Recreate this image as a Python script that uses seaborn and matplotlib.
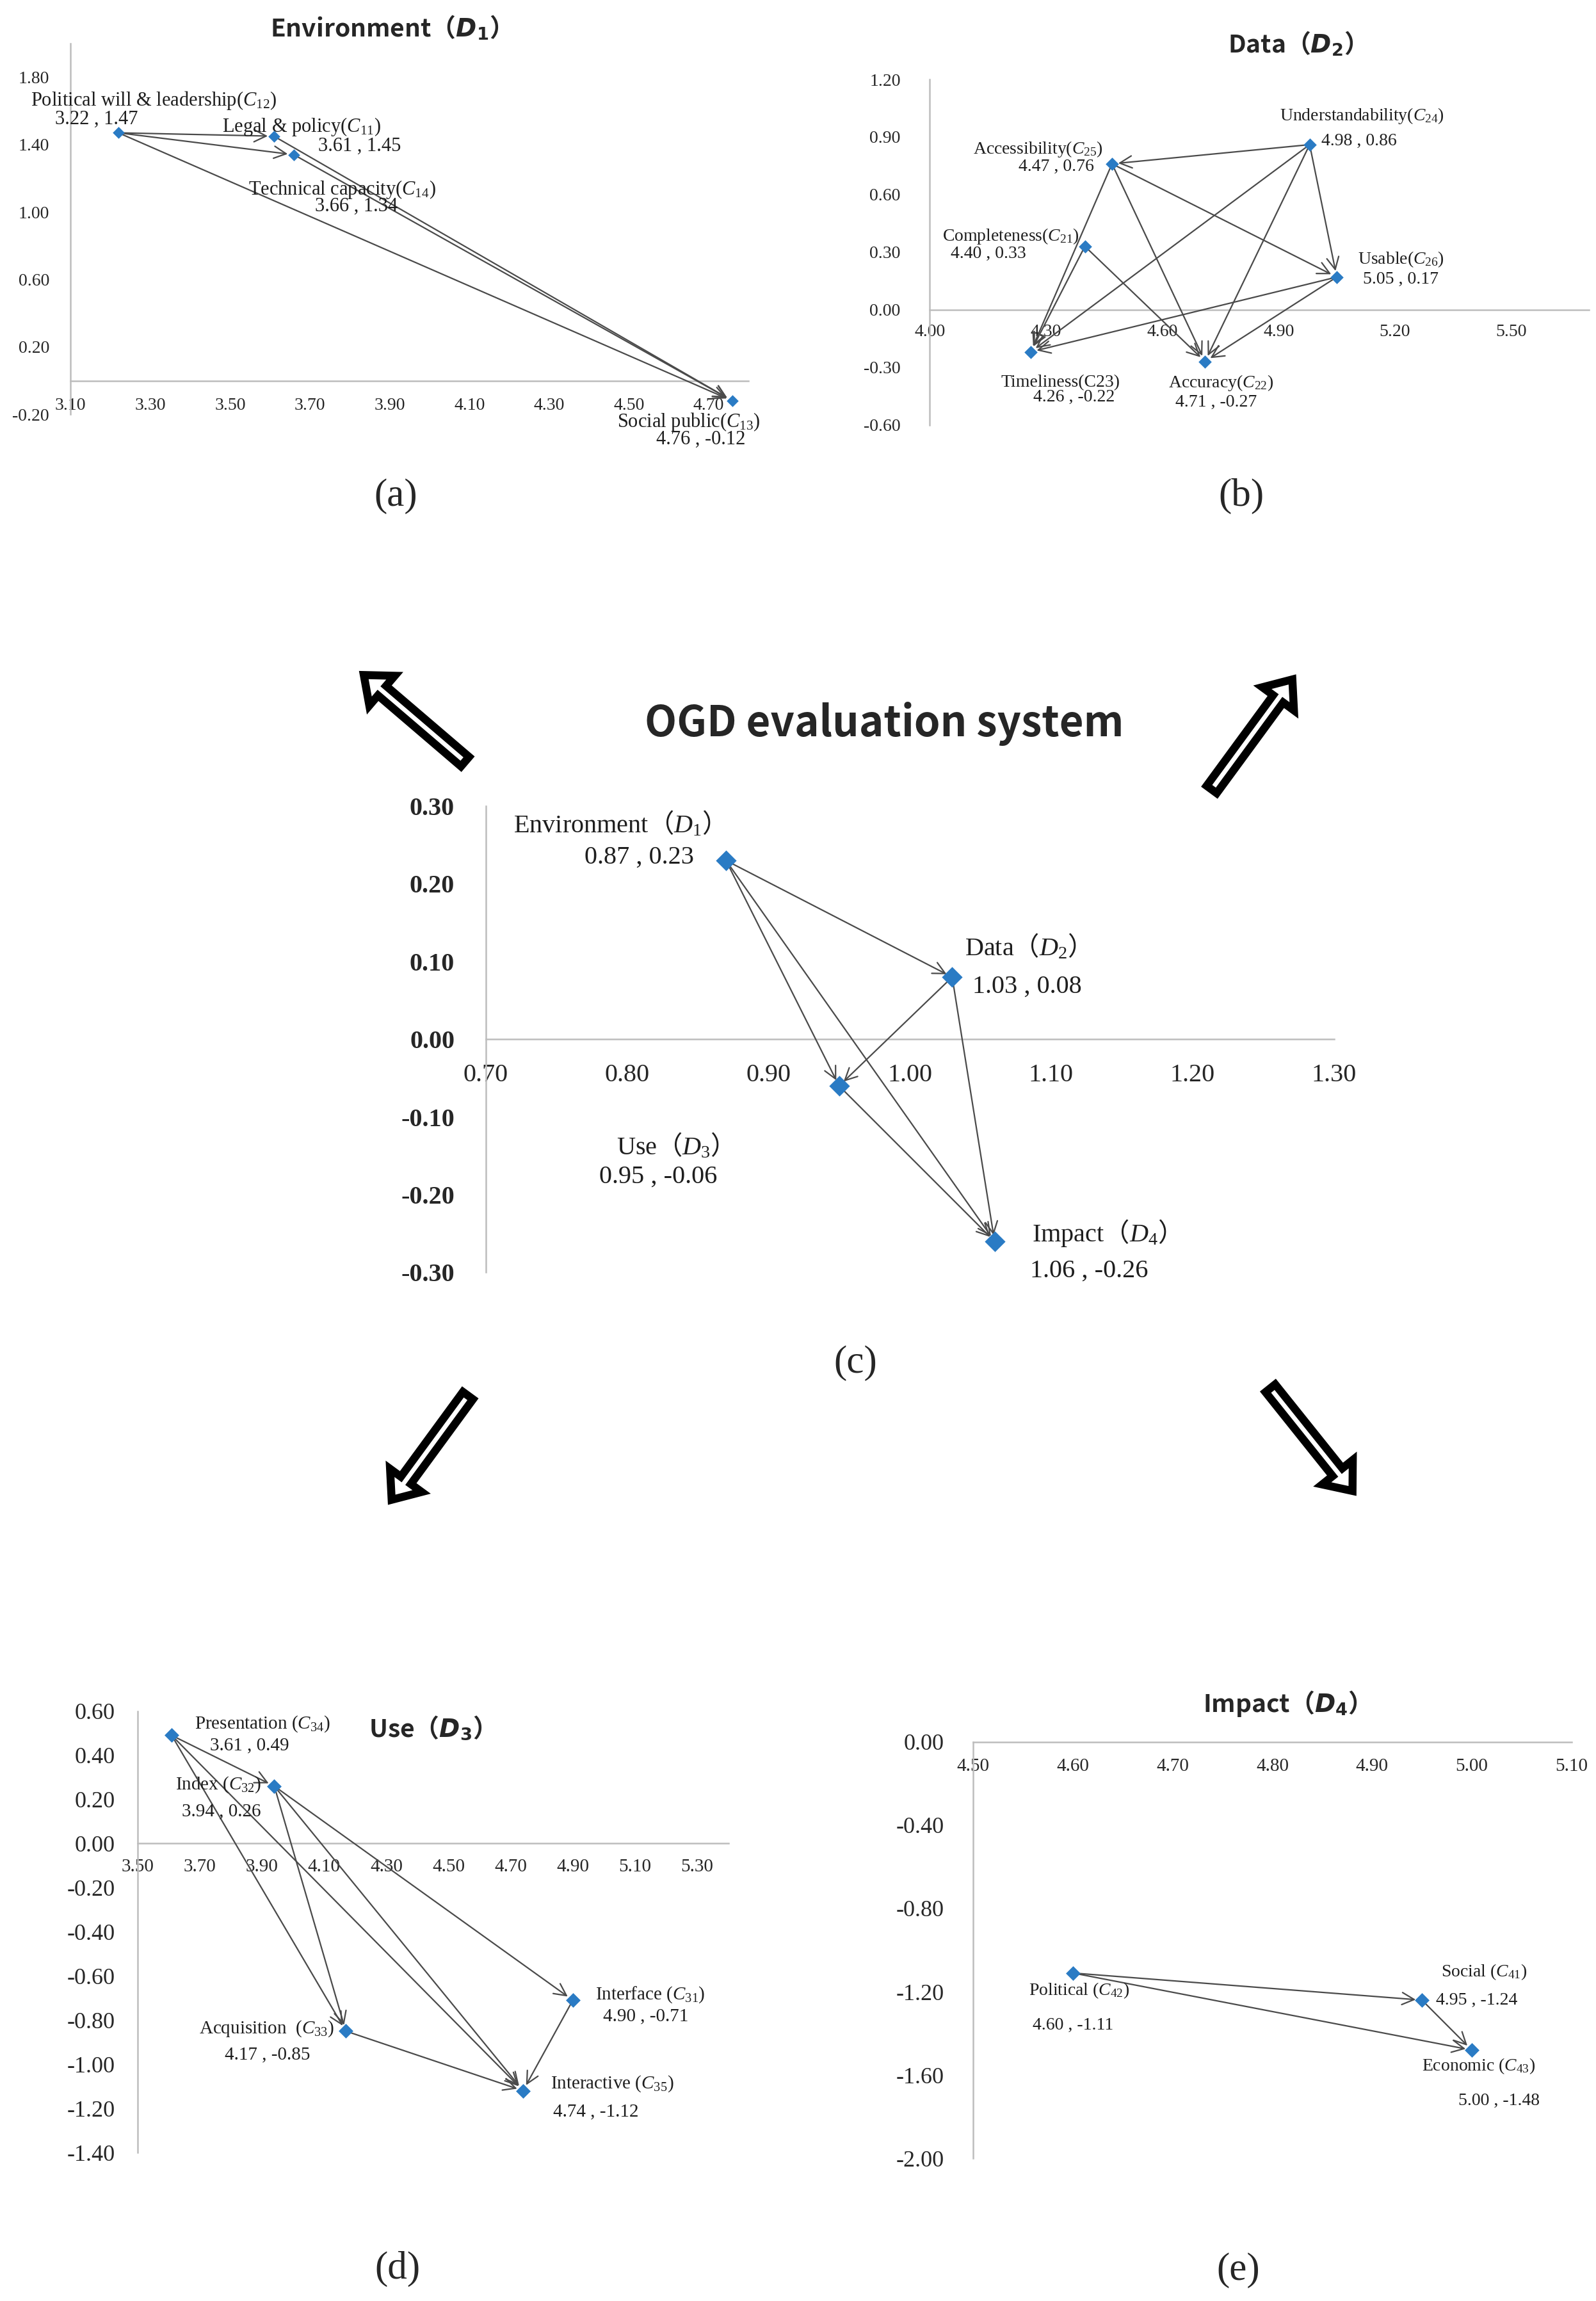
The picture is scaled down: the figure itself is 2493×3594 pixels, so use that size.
import matplotlib
matplotlib.use("Agg")
import matplotlib.pyplot as plt
import seaborn as sns
from matplotlib.patches import FancyArrowPatch
from matplotlib.ticker import FormatStrFormatter

# ---- (a) Environment (D1) ----
env_names = [r"Legal & policy($C_{\mathrm{11}}$)",
             r"Political will & leadership($C_{\mathrm{12}}$)",
             r"Social public($C_{\mathrm{13}}$)",
             r"Technical capacity($C_{\mathrm{14}}$)"]
env_x = [3.61, 3.22, 4.76, 3.66]
env_y = [1.45, 1.47, -0.12, 1.34]
env_links = [(1, 0), (1, 3), (1, 2), (0, 2), (3, 2)]
env_xticks = [3.10, 3.30, 3.50, 3.70, 3.90, 4.10, 4.30, 4.50, 4.70]
env_yticks = [-0.20, 0.20, 0.60, 1.00, 1.40, 1.80]

# ---- (b) Data (D2) ----
data_names = [r"Completeness($C_{\mathrm{21}}$)", r"Accuracy($C_{\mathrm{22}}$)", "Timeliness(C23)",
              r"Understandability($C_{\mathrm{24}}$)", r"Accessibility($C_{\mathrm{25}}$)",
              r"Usable($C_{\mathrm{26}}$)"]
data_x = [4.40, 4.71, 4.26, 4.98, 4.47, 5.05]
data_y = [0.33, -0.27, -0.22, 0.86, 0.76, 0.17]
data_links = [(3, 4), (3, 5), (3, 2), (3, 1), (4, 2), (4, 1), (4, 5), (0, 2), (0, 1), (5, 2), (5, 1)]
data_xticks = [4.00, 4.30, 4.60, 4.90, 5.20, 5.50]
data_yticks = [-0.60, -0.30, 0.00, 0.30, 0.60, 0.90, 1.20]

# ---- (c) OGD evaluation system ----
dim_names = [r"Environment$\mathsf{（}\mathit{D}_{\mathrm{1}}\mathsf{）}$",
             r"Data$\mathsf{（}\mathit{D}_{\mathrm{2}}\mathsf{）}$",
             r"Use$\mathsf{（}\mathit{D}_{\mathrm{3}}\mathsf{）}$",
             r"Impact$\mathsf{（}\mathit{D}_{\mathrm{4}}\mathsf{）}$"]
dim_x = [0.87, 1.03, 0.95, 1.06]
dim_y = [0.23, 0.08, -0.06, -0.26]
dim_links = [(0, 1), (0, 2), (0, 3), (1, 2), (1, 3), (2, 3)]
dim_xticks = [0.70, 0.80, 0.90, 1.00, 1.10, 1.20, 1.30]
dim_yticks = [-0.30, -0.20, -0.10, 0.00, 0.10, 0.20, 0.30]

# ---- (d) Use (D3) ----
use_names = [r"Interface ($C_{\mathrm{31}}$)", r"Index ($C_{\mathrm{32}}$)",
             r"Acquisition  ($C_{\mathrm{33}}$)", r"Presentation ($C_{\mathrm{34}}$)",
             r"Interactive ($C_{\mathrm{35}}$)"]
use_x = [4.90, 3.94, 4.17, 3.61, 4.74]
use_y = [-0.71, 0.26, -0.85, 0.49, -1.12]
use_links = [(3, 1), (3, 2), (3, 4), (1, 2), (1, 4), (1, 0), (2, 4), (0, 4)]
use_xticks = [3.50, 3.70, 3.90, 4.10, 4.30, 4.50, 4.70, 4.90, 5.10, 5.30]
use_yticks = [-1.40, -1.20, -1.00, -0.80, -0.60, -0.40, -0.20, 0.00, 0.20, 0.40, 0.60]

# ---- (e) Impact (D4) ----
imp_names = [r"Social ($C_{\mathrm{41}}$)", r"Political ($C_{\mathrm{42}}$)", r"Economic ($C_{\mathrm{43}}$)"]
imp_x = [4.95, 4.60, 5.00]
imp_y = [-1.24, -1.11, -1.48]
imp_links = [(1, 0), (1, 2), (0, 2)]
imp_xticks = [4.50, 4.60, 4.70, 4.80, 4.90, 5.00, 5.10]
imp_yticks = [-2.00, -1.60, -1.20, -0.80, -0.40, 0.00]

# label offsets from each point, in layout pixels (x right, y down)
env_name_off = [(19, -6.6), (24, -22), (-29.8, 14.3), (33, 23.8)]
env_val_off = [(58.4, 6.8), (-15, -9.4), (-21.5, 26.4), (42.6, 35)]
data_name_off = [(-50.7, -7), (10.6, 14.7), (20.2, 20.8), (35.5, -19.4), (-50.4, -9.9), (43.7, -11.9)]
data_val_off = [(-65.8, 5), (7.4, 27.7), (29.5, 30.8), (33.6, -2.2), (-37.9, 2.1), (43.7, 1.7)]
dim_name_off = [(-77.5, -24.8), (46.8, -20.7), (-116.6, 41), (71.5, -5.5)]
dim_val_off = [(-59, -2.1), (51, 6.4), (-123.2, 62), (64.4, 20.2)]
use_name_off = [(52.6, -3.7), (-37.9, -1.1), (-54, -1.5), (61.7, -7.8), (60.6, -4.6)]
use_val_off = [(49.8, 10.8), (-36.2, 17.2), (-53.3, 15.9), (52.9, 6.8), (49.7, 14.5)]
imp_name_off = [(42.5, -19.2), (4, 11.8), (4.5, 10.8)]
imp_val_off = [(37.5, 0.3), (0.1, 35.7), (18.5, 34.6)]

sns.set_style("white")
plt.rcParams["font.family"] = ["Liberation Serif", "Noto Sans CJK SC"]
plt.rcParams["mathtext.fontset"] = "custom"
plt.rcParams["mathtext.rm"] = "Liberation Serif"
plt.rcParams["mathtext.it"] = "Liberation Serif:italic"
plt.rcParams["mathtext.bf"] = "DejaVu Sans:bold"
plt.rcParams["mathtext.sf"] = "Noto Sans CJK SC"
plt.rcParams["mathtext.bfit"] = "DejaVu Sans:italic:bold"

W, H = 1088, 1568   # layout grid
PT = 1.65           # points per layout pixel
BLUE = "#2a7bc4"
AXC = "#bdbdbd"


def box(x0, y0, x1, y1):
    return [x0 / W, 1 - y1 / H, (x1 - x0) / W, (y1 - y0) / H]


def fpos(x, y):
    return x / W, 1 - y / H


fig = plt.figure(figsize=(24.93, 35.94), dpi=100)


def panel(ax, xs, ys, names, links, name_off, val_off, size, fs):
    for i, j in links:
        ax.annotate("", xy=(xs[j], ys[j]), xytext=(xs[i], ys[i]),
                    arrowprops=dict(arrowstyle="->", color="#4a4a4a", lw=1.6,
                                    shrinkA=4, shrinkB=7, mutation_scale=34))
    sns.scatterplot(x=xs, y=ys, ax=ax, marker="D", s=size, color=BLUE,
                    linewidth=0, zorder=5, clip_on=False)
    for x, y, n, no, vo in zip(xs, ys, names, name_off, val_off):
        ax.annotate(n, (x, y), xytext=(no[0] * PT, -no[1] * PT), textcoords="offset points",
                    ha="center", va="center", fontsize=fs, color="#1e1e1e", annotation_clip=False)
        ax.annotate(f"{x:.2f} , {y:.2f}", (x, y), xytext=(vo[0] * PT, -vo[1] * PT),
                    textcoords="offset points", ha="center", va="center", fontsize=fs,
                    color="#1e1e1e", annotation_clip=False)


def style(ax, xlim, ylim, xticks, yticks, fx, fy, padx, pady):
    ax.set_xlim(xlim)
    ax.set_ylim(ylim)
    ax.set_xticks(xticks)
    ax.set_yticks(yticks)
    ax.xaxis.set_major_formatter(FormatStrFormatter("%.2f"))
    ax.yaxis.set_major_formatter(FormatStrFormatter("%.2f"))
    ax.set_facecolor("none")
    ax.spines[["top", "right"]].set_visible(False)
    for s in ("bottom", "left"):
        ax.spines[s].set_color(AXC)
        ax.spines[s].set_linewidth(1.8)
    ax.spines["bottom"].set_position(("data", 0))
    ax.tick_params(axis="x", direction="in", length=6, width=1.4, color=AXC, labelsize=fx, pad=padx)
    ax.tick_params(axis="y", direction="out", length=5, width=1.4, color=AXC, labelsize=fy, pad=pady)
    ax.set_xlabel("")
    ax.set_ylabel("")


ax_a = fig.add_axes(box(48.1, 29.6, 510.3, 282.4))
panel(ax_a, env_x, env_y, env_names, env_links, env_name_off, env_val_off, 90, 22)
style(ax_a, (3.10, 4.80), (-0.20, 2.00), env_xticks, env_yticks, 20, 20, 19, 19)

ax_b = fig.add_axes(box(633.9, 54.1, 1083, 289.5))
panel(ax_b, data_x, data_y, data_names, data_links, data_name_off, data_val_off, 110, 20)
style(ax_b, (4.00, 5.70), (-0.60, 1.20), data_xticks, data_yticks, 20, 20, 16, 28)

ax_c = fig.add_axes(box(331.1, 549.3, 909.3, 867.1))
panel(ax_c, dim_x, dim_y, dim_names, dim_links, dim_name_off, dim_val_off, 270, 29)
style(ax_c, (0.70, 1.30), (-0.30, 0.30), dim_xticks, dim_yticks, 29, 29, 27, 30)
for t in ax_c.get_yticklabels():
    t.set_fontweight("bold")

ax_d = fig.add_axes(box(93.7, 1166, 496.5, 1466.8))
panel(ax_d, use_x, use_y, use_names, use_links, use_name_off, use_val_off, 136, 21)
style(ax_d, (3.50, 5.40), (-1.40, 0.60), use_xticks, use_yticks, 21, 26, 17, 20)

ax_e = fig.add_axes(box(663.5, 1187, 1071.3, 1470.8))
panel(ax_e, imp_x, imp_y, imp_names, imp_links, imp_name_off, imp_val_off, 136, 20)
style(ax_e, (4.50, 5.10), (-2.00, 0.00), imp_xticks, imp_yticks, 21, 26, 18, 28)

# titles
tkw = dict(family="Noto Sans CJK SC", weight="bold", fontsize=28, ha="center", va="center")
fig.text(*fpos(262, 19), r"Environment（$\mathbfit{D}_{\mathbf{1}}$）", **tkw)
fig.text(*fpos(880, 30), r"Data（$\mathbfit{D}_{\mathbf{2}}$）", **tkw)
fig.text(*fpos(290, 1178), r"Use（$\mathbfit{D}_{\mathbf{3}}$）", **tkw)
fig.text(*fpos(873, 1161), r"Impact（$\mathbfit{D}_{\mathbf{4}}$）", **tkw)
fig.text(*fpos(603, 493), "OGD evaluation system", family="Noto Sans CJK SC", weight="bold",
         fontsize=47, ha="center", va="center")

# sub-figure letters
for lab, (x, y) in zip(["(a)", "(b)", "(c)", "(d)", "(e)"],
                       [(270, 338), (846, 338), (583, 929), (271, 1546), (844, 1547)]):
    fig.text(*fpos(x, y), lab, fontsize=44, ha="center", va="center", family="Liberation Serif")

# hollow block arrows pointing from (c) to the four sub-charts
big_arrows = [((317, 519), (248, 460)), ((826, 538), (881, 463)),
              ((319, 951), (267, 1022)), ((866, 946), (922, 1016))]
for tail, head in big_arrows:
    fig.patches.append(FancyArrowPatch(fpos(*tail), fpos(*head), transform=fig.transFigure,
                                       arrowstyle="simple,head_length=27,head_width=44,tail_width=14",
                                       mutation_scale=1, fc="white", ec="black", lw=9,
                                       joinstyle="miter", shrinkA=0, shrinkB=0))

fig.savefig("out.png", dpi=100, facecolor="white")
